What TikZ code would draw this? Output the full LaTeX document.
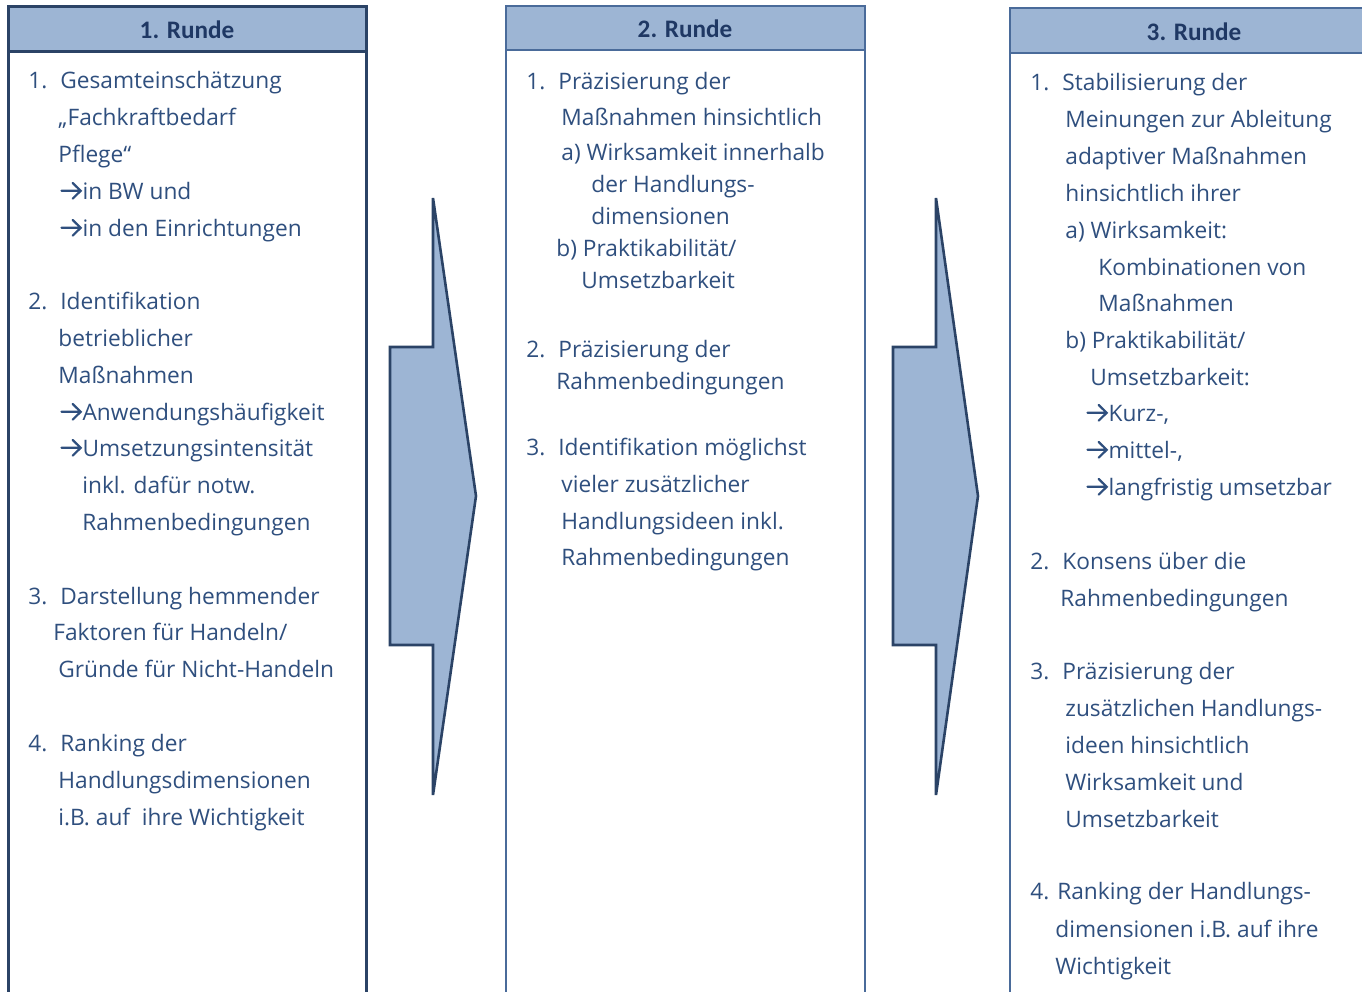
\documentclass[tikz,border=0pt]{standalone}
\usepackage{fontspec}
\setmainfont{Open Sans}
\newfontfamily\headfont{Carlito}
\definecolor{headfill}{HTML}{9DB5D4}
\definecolor{darkline}{HTML}{2B4366}
\definecolor{midline}{HTML}{4A6B9A}
\definecolor{bodytext}{HTML}{2F4F7E}
\definecolor{headtext}{HTML}{1F3864}
\newcommand\arr{\tikz[x=1pt,y=1pt,baseline=0pt]\draw[draw=bodytext,line width=1.1pt,line cap=round,line join=miter] (0.6,4.1)--(10.2,4.1) (6.2,0.2)--(10.2,4.1)--(6.2,8.0);\hspace{0.4pt}}
\newcommand\mytxt[4]{\node[txt] (#1) at (#2,#3) {#4};}
\begin{document}
\begin{tikzpicture}[x=0.5pt,y=-0.5pt,
  txt/.style={anchor=base west,inner sep=0pt,text=bodytext,font=\fontsize{11.35pt}{13pt}\selectfont},
  headtxt/.style={inner sep=0pt,text=headtext,font=\headfont\bfseries\fontsize{12.6pt}{15pt}\selectfont},
  colA/.style={draw=darkline,line width=1.5pt},
  colB/.style={draw=midline,line width=1.2pt},
  bigarrow/.style={draw=darkline,fill=headfill,line width=1.3pt,line join=miter}]
\useasboundingbox (0,0) rectangle (1362,992);
\clip (0,0) rectangle (1362,992);
% columns
\filldraw[colA,fill=headfill] (8,6) rectangle (366,51);
\draw[colA] (8,51) -- (8,1010) (366,51) -- (366,1010);
\filldraw[colB,fill=headfill] (506,6) rectangle (865,50);
\draw[colB] (506,50) -- (506,1010) (865,50) -- (865,1010);
\filldraw[colB,fill=headfill] (1010,8) rectangle (1380,53);
\draw[colB] (1010,53) -- (1010,1010);
\node[headtxt] (h1) at (187,30) {1. Runde};
\node[headtxt] (h2) at (685,29) {2. Runde};
\node[headtxt] (h3) at (1194,32) {3. Runde};
% big arrows
\draw[bigarrow] (433,198) -- (476,496) -- (433,795) -- (433,645) -- (390,645) -- (390,347) -- (433,347) -- cycle;
\draw[bigarrow] (936,198) -- (978,496) -- (936,795) -- (936,645) -- (893,645) -- (893,347) -- (936,347) -- cycle;
% column 1
\mytxt{a1n}{28}{88}{1.}
\mytxt{a1a}{60}{88}{Gesamteinschätzung}
\mytxt{a1b}{58}{125}{„Fachkraftbedarf}
\mytxt{a1c}{58}{162}{Pflege“}
\mytxt{a1d}{60}{199}{\arr in BW und}
\mytxt{a1e}{60}{236}{\arr in den Einrichtungen}
\mytxt{a2n}{28}{309}{2.}
\mytxt{a2a}{60}{309}{Identifikation}
\mytxt{a2b}{58}{346}{betrieblicher}
\mytxt{a2c}{58}{383}{Maßnahmen}
\mytxt{a2d}{60}{420}{\arr Anwendungshäufigkeit}
\mytxt{a2e}{60}{456}{\arr Umsetzungsintensität}
\mytxt{a2f}{82}{493}{inkl. dafür notw.}
\mytxt{a2g}{82}{530}{Rahmenbedingungen}
\mytxt{a3n}{28}{604}{3.}
\mytxt{a3a}{60}{604}{Darstellung hemmender}
\mytxt{a3b}{53}{640}{Faktoren für Handeln/}
\mytxt{a3c}{58}{677}{Gründe für Nicht-Handeln}
\mytxt{a4n}{28}{751}{4.}
\mytxt{a4a}{60}{751}{Ranking der}
\mytxt{a4b}{58}{788}{Handlungsdimensionen}
\mytxt{a4c}{58}{825}{i.B. auf\ \ ihre Wichtigkeit}
% column 2
\mytxt{b1n}{526}{89}{1.}
\mytxt{b1a}{558}{89}{Präzisierung der}
\mytxt{b1b}{561}{125}{Maßnahmen hinsichtlich}
\mytxt{b1c}{561}{160}{a) Wirksamkeit innerhalb}
\mytxt{b1d}{591}{192}{der Handlungs-}
\mytxt{b1e}{591}{224}{dimensionen}
\mytxt{b1f}{556}{256}{b) Praktikabilität/}
\mytxt{b1g}{581}{288}{Umsetzbarkeit}
\mytxt{b2n}{526}{357}{2.}
\mytxt{b2a}{558}{357}{Präzisierung der}
\mytxt{b2b}{556}{389}{Rahmenbedingungen}
\mytxt{b3n}{526}{455}{3.}
\mytxt{b3a}{558}{455}{Identifikation möglichst}
\mytxt{b3b}{561}{492}{vieler zusätzlicher}
\mytxt{b3c}{561}{529}{Handlungsideen inkl.}
\mytxt{b3d}{561}{565}{Rahmenbedingungen}
% column 3
\mytxt{c1n}{1030}{90}{1.}
\mytxt{c1a}{1062}{90}{Stabilisierung der}
\mytxt{c1b}{1065}{127}{Meinungen zur Ableitung}
\mytxt{c1c}{1065}{164}{adaptiver Maßnahmen}
\mytxt{c1d}{1065}{201}{hinsichtlich ihrer}
\mytxt{c1e}{1065}{238}{a) Wirksamkeit:}
\mytxt{c1f}{1098}{275}{Kombinationen von}
\mytxt{c1g}{1098}{311}{Maßnahmen}
\mytxt{c1h}{1065}{348}{b) Praktikabilität/}
\mytxt{c1i}{1090}{385}{Umsetzbarkeit:}
\mytxt{c1j}{1086}{421}{\arr Kurz-,}
\mytxt{c1k}{1086}{458}{\arr mittel-,}
\mytxt{c1l}{1086}{495}{\arr langfristig umsetzbar}
\mytxt{c2n}{1030}{569}{2.}
\mytxt{c2a}{1062}{569}{Konsens über die}
\mytxt{c2b}{1060}{606}{Rahmenbedingungen}
\mytxt{c3n}{1030}{679}{3.}
\mytxt{c3a}{1062}{679}{Präzisierung der}
\mytxt{c3b}{1065}{716}{zusätzlichen Handlungs-}
\mytxt{c3c}{1065}{753}{ideen hinsichtlich}
\mytxt{c3d}{1065}{790}{Wirksamkeit und}
\mytxt{c3e}{1065}{827}{Umsetzbarkeit}
\mytxt{c4a}{1030}{899}{4. Ranking der Handlungs-}
\mytxt{c4b}{1055}{937}{dimensionen i.B. auf ihre}
\mytxt{c4c}{1055}{974}{Wichtigkeit}
\end{tikzpicture}
\end{document}
